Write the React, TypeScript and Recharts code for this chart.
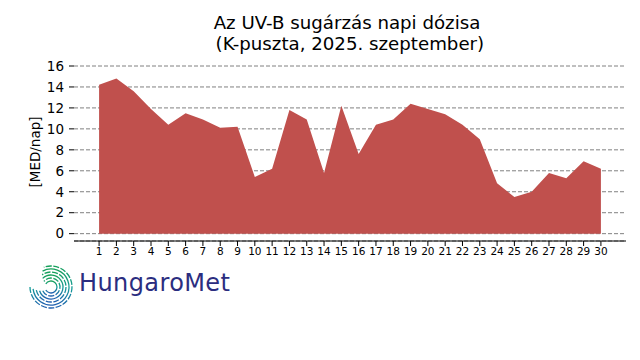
import React from 'react';
import {
  AreaChart, Area, XAxis, YAxis, CartesianGrid,
} from 'recharts';

// napi UV-B dózis, K-puszta, 2025. szeptember
const days = [
  1, 2, 3, 4, 5, 6, 7, 8, 9, 10, 11, 12, 13, 14, 15,
  16, 17, 18, 19, 20, 21, 22, 23, 24, 25, 26, 27, 28, 29, 30,
];
const doses = [
  14.2, 14.8, 13.6, 11.9, 10.4, 11.5, 10.9, 10.1, 10.2, 5.4, 6.2, 11.8, 10.9, 5.8, 12.2,
  7.6, 10.4, 10.9, 12.4, 11.9, 11.4, 10.4, 9.0, 4.8, 3.5, 4.0, 5.8, 5.3, 6.9, 6.2,
];
const yTicks = [0, 2, 4, 6, 8, 10, 12, 14, 16];

const data = days.map((d, i) => ({ day: d, dose: doses[i] }));

const FONT = '"DejaVu Sans", sans-serif';

function Logo() {
  const radii = [6, 9, 12, 15, 18, 21];
  return (
    <svg width={60} height={60} style={{ position: 'absolute', left: 24, top: 260 }}>
      <defs>
        <linearGradient id="lg" x1="0" y1="0" x2="0" y2="1">
          <stop offset="0%" stopColor="#17a05a" />
          <stop offset="55%" stopColor="#159a9a" />
          <stop offset="100%" stopColor="#1f5fb0" />
        </linearGradient>
      </defs>
      {radii.map((r, i) => {
        const cx = 27, cy = 27;
        const a0 = (-150 + i * 8) * Math.PI / 180;
        const a1 = (150 + i * 6) * Math.PI / 180;
        const x0 = cx + r * Math.cos(a0), y0 = cy + r * Math.sin(a0);
        const x1 = cx + r * Math.cos(a1), y1 = cy + r * Math.sin(a1);
        return (
          <path
            key={r}
            d={`M${x1},${y1} A${r},${r} 0 1 0 ${x0},${y0}`}
            fill="none"
            stroke="url(#lg)"
            strokeWidth={1.3}
            strokeDasharray={i % 2 ? '6 1.5' : undefined}
          />
        );
      })}
    </svg>
  );
}

export default function App() {
  return (
    <div style={{ position: 'absolute', left: 0, top: 0, width: 640, height: 360, background: '#fff', fontFamily: FONT }}>
      <div style={{ position: 'absolute', left: 147, width: 400, top: 12, textAlign: 'center', fontSize: 18.2, lineHeight: '21px', color: '#000', whiteSpace: 'pre' }}>
        {'Az UV-B sugárzás napi dózisa\n (K-puszta, 2025. szeptember)'}
      </div>
      <AreaChart
        width={640}
        height={360}
        data={data}
        margin={{ top: 66, right: 14, left: 0, bottom: 89 }}
      >
        <CartesianGrid vertical={false} stroke="#808080" strokeDasharray="4 2" />
        <XAxis
          dataKey="day"
          type="number"
          domain={[-0.45, 31.45]}
          ticks={days}
          interval={0}
          allowDataOverflow
          stroke="#000"
          tickSize={5}
          tick={{ fontSize: 10.5, fill: '#000', fontFamily: FONT }}
        />
        <YAxis
          type="number"
          domain={[-0.7, 16]}
          ticks={yTicks}
          interval={0}
          allowDataOverflow
          width={74}
          axisLine={false}
          tickLine={{ stroke: '#000' }}
          tickSize={5}
          tickMargin={5}
          tick={{ fontSize: 13.5, fill: '#000', fontFamily: FONT }}
        />
        <Area
          type="linear"
          dataKey="dose"
          baseValue={0}
          stroke="none"
          fill="#c0504d"
          fillOpacity={1}
          isAnimationActive={false}
        />
      </AreaChart>
      <div style={{ position: 'absolute', left: 35, top: 152, width: 0, height: 0 }}>
        <div style={{ position: 'absolute', left: -60, top: -8, width: 120, textAlign: 'center', fontSize: 13.5, lineHeight: '16px', color: '#000', transform: 'rotate(-90deg)', whiteSpace: 'nowrap' }}>
          [MED/nap]
        </div>
      </div>
      <Logo />
      <div style={{ position: 'absolute', left: 79, top: 269, fontSize: 24, color: '#2b2d80', fontFamily: FONT, letterSpacing: 0.4 }}>
        HungaroMet
      </div>
    </div>
  );
}
